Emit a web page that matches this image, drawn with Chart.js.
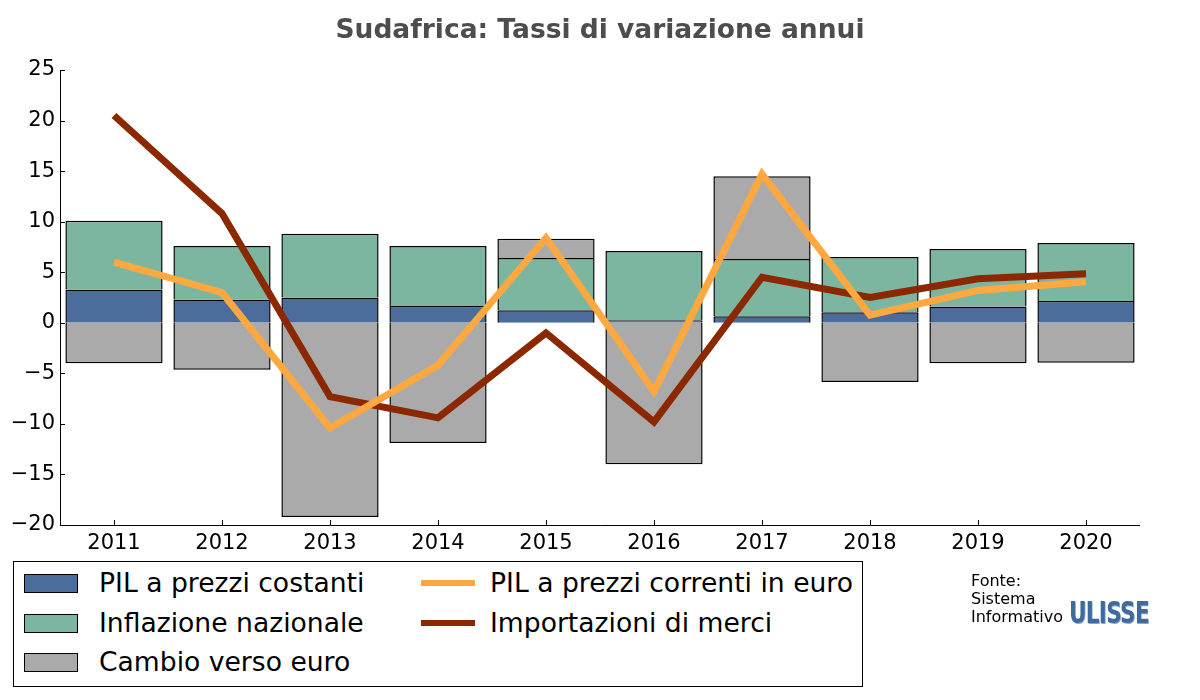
<!DOCTYPE html>
<html>
<head>
<meta charset="utf-8">
<script src="https://cdn.jsdelivr.net/npm/chart.js@4"></script>
<style>
  body { margin: 0; background: #fff; font-family: "DejaVu Sans", sans-serif; }
  #wrap { position: relative; width: 1200px; height: 700px; }
  #title { position: absolute; left: 0; top: 13px; width: 1200px; text-align: center;
    font-weight: bold; font-size: 26.5px; color: #4d4d4d; }
  #legend { position: absolute; left: 13px; top: 561px; width: 848px; height: 124px;
    border: 1px solid #000; background: #fff; }
  .item { position: absolute; font-size: 26.6px; color: #000; white-space: nowrap; line-height: 30px; }
  .patch { position: absolute; width: 52px; height: 17px; border: 1px solid #000; }
  .handle { position: absolute; width: 54px; height: 6px; }
  #fonte { position: absolute; left: 971px; top: 572px; font-size: 16px; line-height: 18px; color: #000; }
  #ulisse { position: absolute; left: 1069px; top: 595px; font-size: 30px; font-weight: bold;
    color: #3e6aa0; letter-spacing: -1px; transform: scaleX(0.72); transform-origin: left top;
    text-shadow: 1px 1px 0 #8aa6c8; }
</style>
</head>
<body>
<div id="wrap">
  <canvas id="chart" width="1200" height="700"></canvas>
  <div id="title">Sudafrica: Tassi di variazione annui</div>
  <div id="legend"></div>
  <div id="fonte">Fonte:<br>Sistema<br>Informativo</div>
  <div id="ulisse">ULISSE</div>
</div>
<script>
// dati
const anni = ["2011", "2012", "2013", "2014", "2015", "2016", "2017", "2018", "2019", "2020"];
const pilCostanti = [3.3, 2.3, 2.5, 1.65, 1.25, 0.25, 0.65, 1.05, 1.6, 2.15];
const inflazione = [6.8, 5.3, 6.3, 5.95, 5.15, 6.85, 5.65, 5.45, 5.7, 5.75];
const cambio = [-4.0, -4.65, -19.2, -11.9, 1.9, -14.0, 8.2, -5.85, -4.0, -3.95];
const pilCorrenti = [6.0, 3.0, -10.4, -4.2, 8.4, -6.8, 14.7, 0.75, 3.2, 4.05];
const importazioni = [20.5, 10.8, -7.3, -9.4, -1.0, -9.8, 4.5, 2.5, 4.35, 4.85];
const yTicks = [-20, -15, -10, -5, 0, 5, 10, 15, 20, 25];

const colori = {
  blu: "#4c6d9b",
  verde: "#7db6a0",
  grigio: "#aaaaaa",
  arancio: "#ffa83f",
  rosso: "#8b2800",
};

// spine e tacche verso l'interno, come nell'originale
const assiPlugin = {
  id: "assi",
  afterDraw(chart) {
    const { ctx, chartArea, scales } = chart;
    ctx.save();
    ctx.strokeStyle = "#000";
    ctx.lineWidth = 1;
    ctx.beginPath();
    ctx.moveTo(chartArea.left + 0.5, chartArea.top);
    ctx.lineTo(chartArea.left + 0.5, chartArea.bottom + 0.5);
    ctx.lineTo(chartArea.right, chartArea.bottom + 0.5);
    scales.y.ticks.forEach((t, i) => {
      const y = Math.round(scales.y.getPixelForTick(i)) + 0.5;
      ctx.moveTo(chartArea.left, y);
      ctx.lineTo(chartArea.left + 5, y);
    });
    scales.x.ticks.forEach((t, i) => {
      const x = Math.round(scales.x.getPixelForTick(i)) + 0.5;
      ctx.moveTo(x, chartArea.bottom);
      ctx.lineTo(x, chartArea.bottom - 5);
    });
    ctx.stroke();
    ctx.restore();
  },
};

const ctx = document.getElementById("chart").getContext("2d");
new Chart(ctx, {
  data: {
    labels: anni,
    datasets: [
      { type: "line", label: "PIL a prezzi correnti in euro", data: pilCorrenti, borderColor: colori.arancio,
        backgroundColor: colori.arancio, borderWidth: 7, pointRadius: 0, stack: "l1", order: 0 },
      { type: "line", label: "Importazioni di merci", data: importazioni, borderColor: colori.rosso,
        backgroundColor: colori.rosso, borderWidth: 7, pointRadius: 0, stack: "l2", order: 1 },
      { type: "bar", label: "PIL a prezzi costanti", data: pilCostanti, backgroundColor: colori.blu,
        borderColor: "#000", borderWidth: 1.5, stack: "barre", order: 2 },
      { type: "bar", label: "Inflazione nazionale", data: inflazione, backgroundColor: colori.verde,
        borderColor: "#000", borderWidth: 1.5, stack: "barre", order: 2 },
      { type: "bar", label: "Cambio verso euro", data: cambio, backgroundColor: colori.grigio,
        borderColor: "#000", borderWidth: 1.5, stack: "barre", order: 2 },
    ],
  },
  options: {
    responsive: false,
    animation: false,
    layout: { padding: { top: 70, right: 60, left: 0, bottom: 0 } },
    datasets: { bar: { barPercentage: 0.9, categoryPercentage: 1.0 } },
    plugins: { legend: { display: false }, title: { display: false }, tooltip: { enabled: false } },
    scales: {
      x: {
        stacked: true,
        grid: { display: false, drawTicks: false },
        border: { display: false },
        ticks: { color: "#000", font: { family: "DejaVu Sans", size: 21 }, padding: 6 },
        afterFit(scale) { scale.height = 175; },
      },
      y: {
        stacked: true,
        min: -20,
        max: 25,
        afterBuildTicks(scale) { scale.ticks = yTicks.map((v) => ({ value: v })); },
        grid: { display: false, drawTicks: false },
        border: { display: false },
        ticks: {
          color: "#000",
          font: { family: "DejaVu Sans", size: 21 },
          padding: 5,
          callback: (v) => String(v).replace("-", "\u2212"),
        },
        afterFit(scale) { scale.width = 60; },
      },
    },
  },
  plugins: [assiPlugin],
});

// legenda a due colonne
const voci = [
  { testo: "PIL a prezzi costanti", colore: colori.blu, tipo: "patch", col: 0, riga: 0 },
  { testo: "Inflazione nazionale", colore: colori.verde, tipo: "patch", col: 0, riga: 1 },
  { testo: "Cambio verso euro", colore: colori.grigio, tipo: "patch", col: 0, riga: 2 },
  { testo: "PIL a prezzi correnti in euro", colore: colori.arancio, tipo: "linea", col: 1, riga: 0 },
  { testo: "Importazioni di merci", colore: colori.rosso, tipo: "linea", col: 1, riga: 1 },
];
const legenda = document.getElementById("legend");
voci.forEach((v) => {
  const cy = 21 + v.riga * 39.5;
  const x0 = v.col === 0 ? 10 : 407;
  const m = document.createElement("div");
  if (v.tipo === "patch") {
    m.className = "patch";
    m.style.left = x0 + "px";
    m.style.top = cy - 9 + "px";
  } else {
    m.className = "handle";
    m.style.left = x0 + "px";
    m.style.top = cy - 3 + "px";
  }
  m.style.background = v.colore;
  legenda.appendChild(m);
  const t = document.createElement("div");
  t.className = "item";
  t.textContent = v.testo;
  t.style.left = x0 + (v.col === 0 ? 75 : 69) + "px";
  t.style.top = cy - 15 + "px";
  legenda.appendChild(t);
});
</script>
</body>
</html>
